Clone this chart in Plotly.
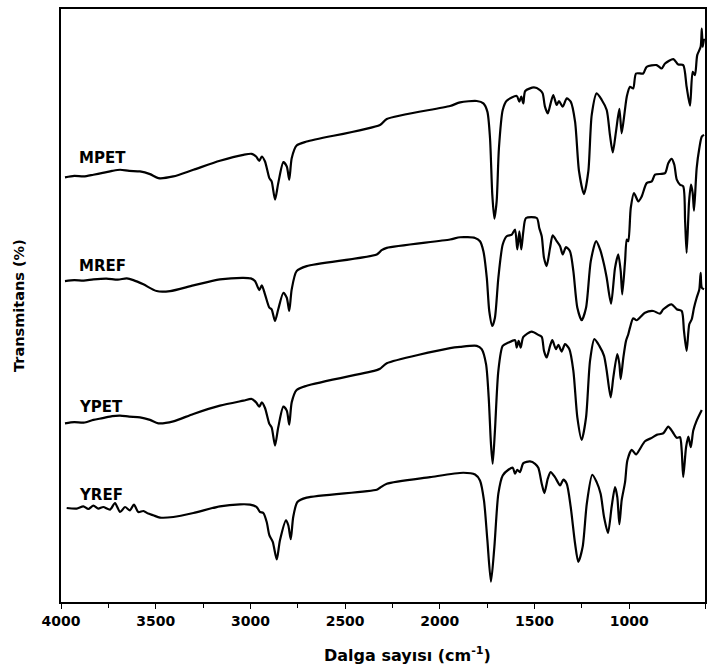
import plotly.graph_objects as go

# ---------------- data (wavenumber cm-1, relative transmittance, stacked) ----------------
MPET_wn = [3979,3930,3880,3829,3780,3730,3688,3640,3583,3530,3486,3407,3301,3161,3037,2993,2970,2953,2940,2923,
           2900,2888,2870,2853,2826,2808,2795,2782,2756,2703,2316,2280,1946,1893,1805,1770,1749,1735,1723,1712,
           1700,1688,1668,1647,1594,1580,1570,1559,1549,1503,1471,1457,1445,1430,1415,1401,1383,1371,1351,1330,
           1309,1286,1265,1239,1216,1198,1172,1145,1119,1102,1087,1070,1052,1040,1026,1013,996,979,964,926,
           908,855,829,811,767,741,715,697,679,665,653,641,623,617,612,605]
MPET_T = [426,427.5,427,428.7,430.5,432.5,433.7,432.5,432,429.3,425.3,427,433.7,442.7,448.7,449.7,447,442.7,447,442,
          425.3,422,403.7,420.3,441.3,437,423.7,445.3,458,462,478.7,484.7,497.7,501.3,502.7,500.3,492,465.3,408.7,384.7,
          402,455.3,493.7,503,507.7,502,507,500.3,512.7,516.3,513.7,510.3,497,490.3,500.3,508.7,498.7,502.7,497,505.3,
          502,482,432,409.3,432,488.7,510.3,503.7,493.7,468.7,451,472,494.7,470.3,488.7,507,517,515.3,530.3,530.3,
          537,538.7,535.3,540.3,544.7,539.3,538.7,517,498,532,528.7,548.7,557,575.3,557,565.3]

MREF_wn = [3979,3930,3880,3829,3760,3700,3653,3618,3565,3495,3424,3301,3161,3037,2998,2976,2953,2940,2923,2900,
           2888,2870,2853,2826,2808,2795,2782,2756,2703,2333,2307,2280,1946,1893,1814,1788,1770,1752,1739,1723,
           1709,1691,1668,1647,1620,1603,1591,1580,1570,1559,1545,1488,1475,1462,1450,1436,1418,1404,1383,1365,
           1351,1334,1313,1295,1274,1251,1228,1203,1175,1154,1133,1119,1096,1075,1058,1045,1037,1022,1013,1005,
           992,975,952,934,908,881,864,811,794,776,762,749,732,715,705,697,684,674,665,658,644,630,617,605]
MREF_T = [322,323,322.5,323.7,324.5,323.5,324.7,323,318.7,312,312,317.7,323.7,325.3,324.7,322,313,317.7,308.7,295.3,
          293.7,282,293.7,310.3,305.3,292,313.7,332,337,348.7,353,355.3,363.7,366,365.3,362,352,325.3,292,277,
          285.3,325.3,358.7,367,368.7,373.7,353.7,372,353.7,372,385.3,385.3,375.3,367,345.3,337,355.3,368,362,357,
          348.7,356,352,332,295.3,282.7,295.3,342,362,353.7,338.7,325.3,299.3,335.3,348.7,332,308.7,342,363.7,362,
          395.3,410.3,402,407,420.3,422,428.7,430.3,440.3,444.7,438.7,423.7,418.7,417,382,350.3,402,418.7,410.3,392.7,
          435.3,455.3,467,468.7]

YPET_wn = [3979,3930,3880,3829,3780,3730,3688,3640,3583,3530,3486,3407,3301,3161,3037,2993,2970,2953,2940,2923,
           2900,2888,2870,2853,2826,2808,2795,2782,2756,2703,2333,2316,2280,1946,1893,1805,1779,1756,1742,1730,
           1721,1709,1691,1668,1638,1603,1594,1584,1573,1559,1515,1480,1462,1450,1436,1418,1406,1387,1374,1357,
           1339,1316,1295,1274,1251,1228,1207,1184,1158,1133,1119,1098,1084,1063,1052,1045,1031,1017,1005,996,
           979,961,917,873,838,820,776,749,723,711,697,683,670,658,644,630,623,617,605]
YPET_T = [179.3,180.5,180,182.7,184.5,186.5,187,186,185.3,182.7,179.3,181.3,188.7,197,202,203.7,200.3,196,200.3,194.7,
          178.7,175.3,157,175.3,196,192,178,200.3,212.7,217,232.7,234,239.5,254.7,256,257,253.7,238.7,205.3,158.7,
          138.7,172,232,257,260.3,262.7,255.3,262,255.3,266,271.3,268,266,252,245.3,257,262.7,253.7,258,251.3,
          258.7,253.7,232,185.3,162.7,185.3,242,263.7,257,247,232,205.3,225.3,248.7,238.7,223.7,245.3,262,268.7,275.3,
          284.7,282.7,290.3,292,289.3,293.7,298.7,293.7,292,272,252,278.7,283.7,295.3,305.3,313.7,330.3,315.3,313.7]

YREF_wn = [3970,3917,3882,3856,3829,3803,3777,3741,3715,3688,3662,3636,3615,3592,3565,3539,3513,3477,3407,3301,
           3161,3055,3002,2967,2949,2932,2914,2900,2882,2861,2844,2812,2800,2787,2774,2752,2703,2333,2316,2280,
           2052,1876,1814,1788,1767,1749,1730,1712,1691,1668,1638,1615,1603,1591,1577,1559,1524,1497,1480,1462,
           1448,1430,1415,1392,1365,1348,1330,1309,1286,1269,1246,1224,1195,1172,1151,1133,1112,1093,1075,1063,
           1052,1040,1022,1010,987,964,943,917,881,855,820,794,770,749,732,723,715,700,688,675,662,644,617]
YREF_T = [94.3,93.7,96,93.3,96.7,93.7,95.3,92.7,99.3,90.3,95.3,92,97.7,90.3,91.3,88.7,87,84.7,85.3,89.3,
          96,98,97.7,95.3,90.3,89.3,80.3,67,60.3,42.7,62,82,77,63,85.3,100.3,104.7,112.7,114.7,118.7,
          125.3,129.7,128,122,102,62,20.3,55.3,108.7,127,132.7,134.7,128.7,132.7,130.3,139.3,141,138.7,134.7,118.7,
          109.3,123.7,130.3,125.3,117,122.7,118.7,95.3,58.7,40.3,55.3,98.7,127.7,120.3,108.7,85.3,69.3,95.3,115.3,105.3,
          78,102,120.3,142,152.7,148,153.7,161.3,164.7,167.7,169.3,176,170.3,164.7,165.3,152,125.3,155.3,166,155.3,
          172,182,192.7]

series_names = ["MPET", "MREF", "YPET", "YREF"]
series_x = [MPET_wn, MREF_wn, YPET_wn, YREF_wn]
series_y = [MPET_T, MREF_T, YPET_T, YREF_T]
label_dy = [20, 15.5, 16, 13]

tick_vals = [4000, 3500, 3000, 2500, 2000, 1500, 1000, 600]
tick_text = ["4000", "3500", "3000", "2500", "2000", "1500", "1000", "600"]
minor_vals = [3750, 3250, 2750, 2250, 1750, 1250]

FONT = "DejaVu Sans"

fig = go.Figure()
for name, xs, ys, dy in zip(series_names, series_x, series_y, label_dy):
    fig.add_trace(go.Scatter(x=xs, y=ys, mode="lines", name=name,
                             line=dict(color="black", width=2.2, shape="spline", smoothing=0.7),
                             showlegend=False, hoverinfo="skip"))
    fig.add_annotation(x=3915, y=ys[0] + dy, xref="x", yref="y", text="<b>%s</b>" % name,
                       showarrow=False, xanchor="left", yanchor="middle",
                       font=dict(family=FONT, size=15, color="black"))

fig.update_xaxes(range=[4000, 600], tickmode="array", tickvals=tick_vals, ticktext=tick_text,
                 ticks="outside", ticklen=5, tickwidth=1, tickcolor="black",
                 minor=dict(tickmode="array", tickvals=minor_vals, ticks="outside", ticklen=4, tickcolor="black"),
                 showline=True, linecolor="black", linewidth=2, mirror=True, showgrid=False, zeroline=False,
                 tickfont=dict(family=FONT, size=14, color="black", weight="bold"))
fig.update_yaxes(range=[0, 595], showticklabels=False, ticks="", showline=True, linecolor="black",
                 linewidth=2, mirror=True, showgrid=False, zeroline=False)

fig.add_annotation(x=(407 - 61) / 644, y=-0.089, xref="paper", yref="paper",
                   text="<b>Dalga sayısı (cm<sup>-1</sup>)</b>", showarrow=False,
                   xanchor="center", yanchor="middle", font=dict(family=FONT, size=16, color="black"))
fig.add_annotation(x=-0.066, y=0.5, xref="paper", yref="paper", text="<b>Transmitans (%)</b>",
                   showarrow=False, textangle=-90, xanchor="center", yanchor="middle",
                   font=dict(family=FONT, size=14.5, color="black"))

fig.update_layout(width=717, height=668, margin=dict(l=61, r=12, t=7, b=66),
                  plot_bgcolor="white", paper_bgcolor="white")

fig.write_html("out.html")
